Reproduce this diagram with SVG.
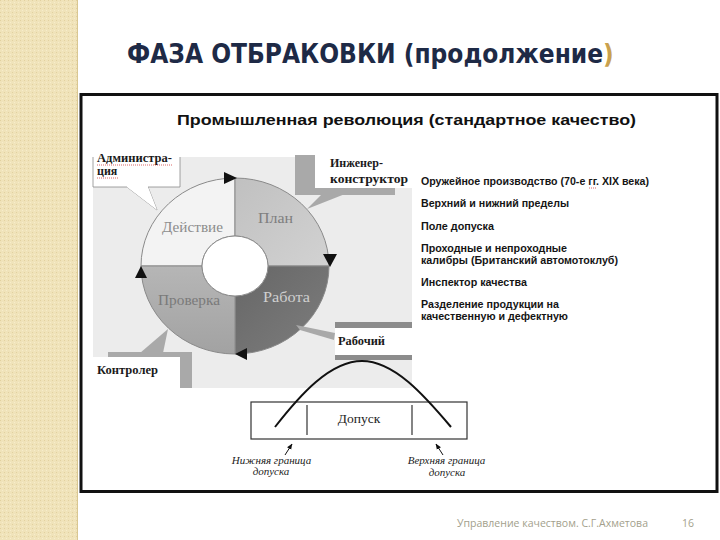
<svg xmlns="http://www.w3.org/2000/svg" width="720" height="540" viewBox="0 0 720 540">
<defs>
  <pattern id="tex" width="4" height="4" patternUnits="userSpaceOnUse">
    <rect width="4" height="4" fill="#F0E3BA"/>
    <rect x="0" y="0" width="1" height="1" fill="#E2D19F"/>
    <rect x="2" y="2" width="1" height="1" fill="#F7EDCB"/>
  </pattern>
  <linearGradient id="gPlan" x1="0" y1="0" x2="1" y2="1">
    <stop offset="0" stop-color="#C0C0C0"/>
    <stop offset="1" stop-color="#D2D2D2"/>
  </linearGradient>
  <linearGradient id="gRab" x1="0" y1="0" x2="1" y2="1">
    <stop offset="0" stop-color="#666666"/>
    <stop offset="1" stop-color="#7E7E7E"/>
  </linearGradient>
  <linearGradient id="gPro" x1="0" y1="0" x2="0" y2="1">
    <stop offset="0" stop-color="#B6B6B6"/>
    <stop offset="1" stop-color="#A2A2A2"/>
  </linearGradient>
  <marker id="ah" viewBox="0 0 10 10" refX="9" refY="5" markerWidth="6" markerHeight="6" orient="auto">
    <path d="M0,1 L10,5 L0,9 Z" fill="#111"/>
  </marker>
  <style>
    .title{font-family:"DejaVu Sans Condensed","DejaVu Sans","Liberation Sans",sans-serif;font-stretch:condensed;font-weight:bold;font-size:26px;fill:#1E2A46}
    .sub{font-family:"Liberation Sans",Arial,sans-serif;font-weight:bold;font-size:15.5px;fill:#111}
    .item{font-family:"Liberation Sans",Arial,sans-serif;font-weight:bold;font-size:10.5px;fill:#151515}
    .call{font-family:"Liberation Serif","Times New Roman",serif;font-weight:bold;font-size:12px;fill:#1a1a1a}
    .quad{font-family:"Liberation Serif","Times New Roman",serif;font-size:15px}
    .ital{font-family:"Liberation Serif","Times New Roman",serif;font-style:italic;font-size:11px;fill:#222}
    .foot{font-family:"Open Sans","Liberation Sans",sans-serif;font-size:10.5px;fill:#A39F8C}
    .q{stroke:#8A8A8A;stroke-width:1}
    .shade{fill:#A9A9A9}
    .tri{fill:#111}
    .squig{fill:none;stroke:#D04040;stroke-width:0.8;stroke-dasharray:1 1}
  </style>
</defs>

<!-- background -->
<rect x="0" y="0" width="720" height="540" fill="#FFFFFF"/>
<rect x="0" y="0" width="77" height="540" fill="url(#tex)"/>
<line x1="77.5" y1="0" x2="77.5" y2="540" stroke="#D9C792" stroke-width="1"/>

<g id="title">
  <text class="title" x="127" y="63">ФАЗА ОТБРАКОВКИ (продолжение<tspan style="fill:#C9A14E">)</tspan></text>
</g>

<g id="frame">
  <rect x="81" y="94.5" width="636" height="397" fill="#FFFFFF" stroke="#111" stroke-width="3"/>
</g>

<g id="subtitle">
  <text class="sub" x="177" y="125" textLength="459" lengthAdjust="spacingAndGlyphs">Промышленная революция (стандартное качество)</text>
</g>

<!-- PDCA picture background -->
<rect x="93" y="157" width="319" height="231" fill="#ECECEC"/>

<g id="pdca-cycle">
  <path id="q-act" class="q" fill="#F3F3F3" d="M141,266 A94,88 0 0 1 235,178 L235,236 A33,30 0 0 0 202,266 Z"/>
  <path id="q-plan" class="q" fill="url(#gPlan)" d="M235,178 A94,88 0 0 1 329,266 L268,266 A33,30 0 0 0 235,236 Z"/>
  <path id="q-work" class="q" fill="url(#gRab)" d="M329,266 A94,88 0 0 1 235,354 L235,296 A33,30 0 0 0 268,266 Z"/>
  <path id="q-check" class="q" fill="url(#gPro)" d="M235,354 A94,88 0 0 1 141,266 L202,266 A33,30 0 0 0 235,296 Z"/>
  <ellipse cx="235" cy="266" rx="33" ry="30" fill="#FFFFFF" stroke="#8A8A8A" stroke-width="1"/>
  <text class="quad" x="162" y="232" fill="#8C8C8C" textLength="61" lengthAdjust="spacingAndGlyphs">Действие</text>
  <text class="quad" x="258" y="223" fill="#7E7E7E" textLength="35" lengthAdjust="spacingAndGlyphs">План</text>
  <text class="quad" x="158" y="305" fill="#7A7A7A" textLength="62" lengthAdjust="spacingAndGlyphs">Проверка</text>
  <text class="quad" x="263" y="302" fill="#CFCFCF" textLength="47" lengthAdjust="spacingAndGlyphs">Работа</text>
</g>

<g id="connectors">
  <!-- cycle arrowheads -->
  <polygon class="tri" points="224,172 237,178 224,184"/>
  <polygon class="tri" points="323,254 337,254 330,267"/>
  <polygon class="tri" points="247,348 247,360 235,354"/>
  <polygon class="tri" points="135,278 147,278 141,266"/>
  <!-- callout pointers -->
  <path d="M127,187 L157,210 L148,187" fill="#FFFFFF" stroke="#8A8A8A" stroke-width="0.8"/>
  <polygon class="shade" points="322,194 345,194 307,209"/>
  <polygon class="shade" points="296,325 300,330 334,340 335,333"/>
  <polygon class="shade" points="140,353 163,353 168,329"/>
  <!-- tolerance arrows -->
  <line x1="285" y1="455" x2="292" y2="444" stroke="#111" stroke-width="1" marker-end="url(#ah)"/>
  <line x1="443" y1="455" x2="436" y2="444" stroke="#111" stroke-width="1" marker-end="url(#ah)"/>
</g>

<g id="callout-admin">
  <path d="M93,150 L180,150 L180,187 L148,187 L157,210 L127,187 L93,187 Z" fill="#FFFFFF" stroke="none"/>
  <path d="M93,157 L93,187 L127,187 M148,187 L180,187 L180,157" fill="none" stroke="#8A8A8A" stroke-width="0.8"/>
  <text class="call" x="97" y="162" textLength="75" lengthAdjust="spacingAndGlyphs">Администра-</text>
  <text class="call" x="97" y="175">ция</text>
  <path class="squig" d="M97,165 L172,165"/>
  <path class="squig" d="M97,178 L119,178"/>
</g>

<g id="callout-engineer">
  <rect x="295" y="155" width="20" height="40" class="shade"/>
  <rect x="295" y="188" width="100" height="7" class="shade"/>
  <rect x="315" y="155" width="97" height="33" fill="#FFFFFF"/>
  <text class="call" x="330" y="167">Инженер-</text>
  <text class="call" x="330" y="183" textLength="78" lengthAdjust="spacingAndGlyphs">конструктор</text>
</g>

<g id="callout-worker">
  <rect x="335" y="322" width="77" height="6" fill="#8C8C8C"/>
  <rect x="335" y="328" width="77" height="27" fill="#FFFFFF"/>
  <rect x="335" y="355" width="77" height="5" fill="#8C8C8C"/>
  <text class="call" x="338" y="345" textLength="47" lengthAdjust="spacingAndGlyphs">Рабочий</text>
</g>

<g id="callout-controller">
  <rect x="108" y="352" width="84" height="5" class="shade"/>
  <rect x="180" y="352" width="12" height="36" class="shade"/>
  <rect x="93" y="357" width="87" height="31" fill="#FFFFFF"/>
  <text class="call" x="97" y="374" textLength="61" lengthAdjust="spacingAndGlyphs">Контролер</text>
</g>

<g id="list">
  <text class="item" x="421" y="185" textLength="228" lengthAdjust="spacingAndGlyphs">Оружейное производство (70-е гг. XIX века)</text>
  <path class="squig" d="M589,188 L597,188"/>
  <text class="item" x="421" y="207" textLength="148" lengthAdjust="spacingAndGlyphs">Верхний и нижний пределы</text>
  <text class="item" x="421" y="230" textLength="73" lengthAdjust="spacingAndGlyphs">Поле допуска</text>
  <text class="item" x="421" y="252" textLength="146" lengthAdjust="spacingAndGlyphs">Проходные и непроходные</text>
  <text class="item" x="421" y="264" textLength="197" lengthAdjust="spacingAndGlyphs">калибры (Британский автомотоклуб)</text>
  <text class="item" x="421" y="286" textLength="106" lengthAdjust="spacingAndGlyphs">Инспектор качества</text>
  <text class="item" x="421" y="308" textLength="138" lengthAdjust="spacingAndGlyphs">Разделение продукции на</text>
  <text class="item" x="421" y="320" textLength="147" lengthAdjust="spacingAndGlyphs">качественную и дефектную</text>
</g>

<g id="tolerance">
  <rect x="251" y="402" width="216" height="37" fill="none" stroke="#333" stroke-width="1.2"/>
  <line x1="307" y1="405" x2="307" y2="435" stroke="#333" stroke-width="1.2"/>
  <line x1="412" y1="405" x2="412" y2="435" stroke="#333" stroke-width="1.2"/>
  <text x="359" y="423" text-anchor="middle" font-family="Liberation Serif, Times New Roman, serif" font-size="13.5" fill="#222">Допуск</text>
  <path d="M275,427 C300,395 330,361 362,361 C394,361 424,395 451,427" fill="none" stroke="#111" stroke-width="2"/>
  <text class="ital" x="271.5" y="464" text-anchor="middle">Нижняя граница</text>
  <text class="ital" x="271" y="475" text-anchor="middle">допуска</text>
  <text class="ital" x="446.5" y="464" text-anchor="middle">Верхняя граница</text>
  <text class="ital" x="447" y="476" text-anchor="middle">допуска</text>
</g>

<g id="footer">
  <text class="foot" x="457" y="527" textLength="191" lengthAdjust="spacingAndGlyphs">Управление качеством. С.Г.Ахметова</text>
  <text class="foot" x="682" y="527">16</text>
</g>
</svg>
